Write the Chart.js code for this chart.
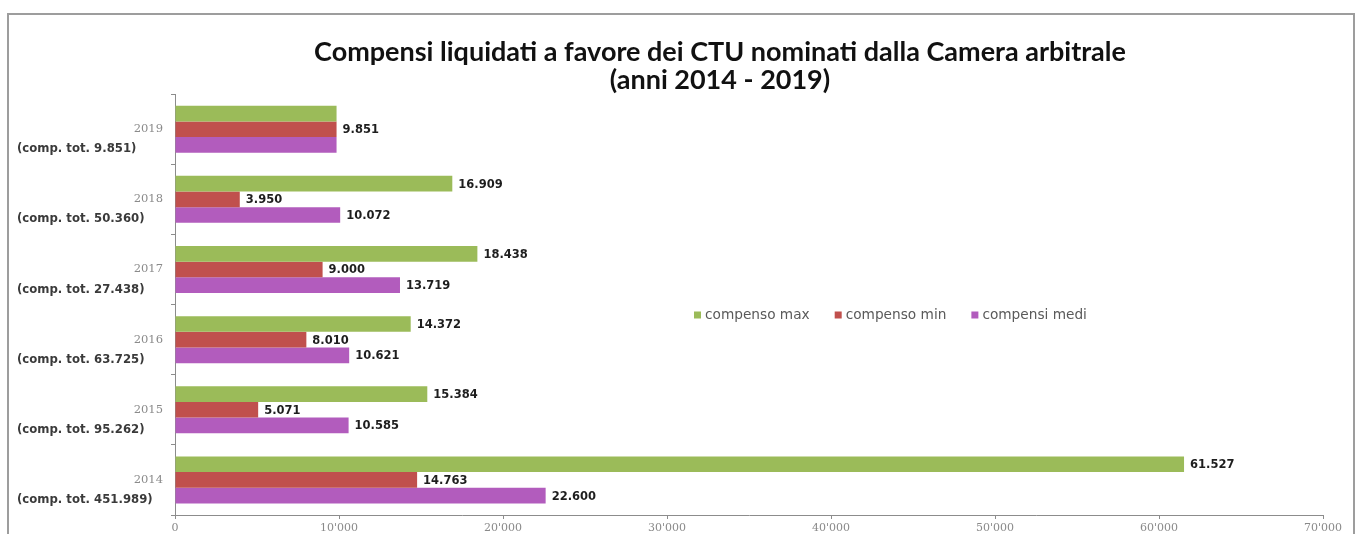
<!DOCTYPE html>
<html lang="it">
<head>
<meta charset="utf-8">
<title>Compensi liquidati a favore dei CTU</title>
<script src="https://cdn.jsdelivr.net/npm/chart.js@4/dist/chart.umd.min.js"></script>
<style>
  html, body { margin: 0; padding: 0; background: #fff; }
  #wrap { position: relative; width: 1362px; height: 534px; }
</style>
</head>
<body>
<div id="wrap"><canvas id="grafico" width="1362" height="534"></canvas></div>
<script>
// Anni (dall'alto verso il basso) e compensi in euro
const anni = ['2019', '2018', '2017', '2016', '2015', '2014'];
const compensiTotali = [9851, 50360, 27438, 63725, 95262, 451989];
const compensoMax = [9851, 16909, 18438, 14372, 15384, 61527];
const compensoMin = [9851, 3950, 9000, 8010, 5071, 14763];
const compensiMedi = [9851, 10072, 13719, 10621, 10585, 22600];
// Tacche dell'asse orizzontale
const tackeAsse = [0, 10000, 20000, 30000, 40000, 50000, 60000, 70000];
// Anni con un solo CTU: max, min e medio coincidono, si etichetta solo una barra
const anniUnSoloCompenso = ['2019'];

const puntiMigliaia = (v, sep) => String(v).replace(/\B(?=(\d{3})+(?!\d))/g, sep);

const VERDE = '#9BBB59', ROSSO = '#C0504D', VIOLA = '#B25CBD';

// Cornice esterna e sfondo
const cornice = {
  id: 'cornice',
  beforeDraw(chart) {
    const { ctx } = chart;
    ctx.save();
    ctx.fillStyle = '#fff';
    ctx.fillRect(0, 0, chart.width, chart.height);
    ctx.strokeStyle = '#9d9d9d';
    ctx.lineWidth = 2;
    ctx.strokeRect(8, 14, 1346, 540);
    ctx.restore();
  }
};

// Valori a destra delle barre
const etichetteValori = {
  id: 'etichetteValori',
  afterDatasetsDraw(chart) {
    const { ctx } = chart;
    ctx.save();
    ctx.font = 'bold 11.5px "DejaVu Sans"';
    ctx.textAlign = 'left';
    ctx.textBaseline = 'middle';
    chart.data.datasets.forEach((ds, di) => {
      const meta = chart.getDatasetMeta(di);
      meta.data.forEach((bar, i) => {
        if (anniUnSoloCompenso.includes(chart.data.labels[i]) && di !== 1) return;
        const testo = puntiMigliaia(ds.data[i], '.');
        const w = ctx.measureText(testo).width;
        ctx.fillStyle = '#fff';
        ctx.fillRect(bar.x + 2, bar.y - 7, w + 7, 14);
        ctx.fillStyle = '#1e1e1e';
        ctx.fillText(testo, bar.x + 6, bar.y + 1);
      });
    });
    ctx.restore();
  }
};

// Compenso totale sotto ogni anno
const totaliAnno = {
  id: 'totaliAnno',
  afterDraw(chart) {
    const { ctx } = chart;
    const y = chart.scales.y;
    ctx.save();
    ctx.font = 'bold 11.7px "DejaVu Sans"';
    ctx.fillStyle = '#3a3a3a';
    ctx.textAlign = 'left';
    ctx.textBaseline = 'middle';
    anni.forEach((a, i) => {
      const testo = '(comp. tot. ' + puntiMigliaia(compensiTotali[i], '.') + ')';
      ctx.fillText(testo, 17, y.getPixelForValue(i) + 20);
    });
    ctx.restore();
  }
};

// Legenda al centro dell'area del grafico
const legendaInterna = {
  id: 'legendaInterna',
  afterDraw(chart) {
    const { ctx } = chart;
    ctx.save();
    ctx.font = '13.7px "DejaVu Sans"';
    ctx.textAlign = 'left';
    ctx.textBaseline = 'middle';
    let x = 694;
    const y = 315;
    chart.data.datasets.forEach(ds => {
      ctx.fillStyle = ds.backgroundColor;
      ctx.fillRect(x, y - 3.5, 7, 7);
      ctx.fillStyle = '#5a5a5a';
      ctx.fillText(ds.label, x + 11, y);
      x += 11 + ctx.measureText(ds.label).width + 25;
    });
    ctx.restore();
  }
};

new Chart(document.getElementById('grafico'), {
  type: 'bar',
  data: {
    labels: anni,
    datasets: [
      { label: 'compenso max', data: compensoMax, backgroundColor: VERDE },
      { label: 'compenso min', data: compensoMin, backgroundColor: ROSSO },
      { label: 'compensi medi', data: compensiMedi, backgroundColor: VIOLA }
    ]
  },
  options: {
    indexAxis: 'y',
    responsive: false,
    animation: false,
    devicePixelRatio: 1,
    layout: { padding: { top: 0, left: 117, right: 39, bottom: 0 } },
    datasets: { bar: { categoryPercentage: 0.67, barPercentage: 1.0 } },
    plugins: {
      legend: { display: false },
      tooltip: { enabled: false },
      title: {
        display: true,
        text: ['Compensi liquidati a favore dei CTU nominati dalla Camera arbitrale', '(anni 2014 - 2019)'],
        color: '#111',
        font: { family: 'Lato', weight: 'bold', size: 27, lineHeight: 1.04 },
        padding: { top: 38, bottom: 0 }
      }
    },
    scales: {
      x: {
        min: tackeAsse[0],
        max: tackeAsse[tackeAsse.length - 1],
        afterBuildTicks(scale) { scale.ticks = tackeAsse.map(v => ({ value: v })); },
        afterFit(scale) { scale.height = 19; },
        grid: { drawOnChartArea: false, drawTicks: true, tickLength: 4, color: '#8c8c8c' },
        border: { color: '#8c8c8c' },
        ticks: {
          padding: 3,
          color: '#8a8a8a',
          font: { family: 'DejaVu Serif', size: 11 },
          maxRotation: 0,
          callback: v => puntiMigliaia(v, "'")
        }
      },
      y: {
        afterFit(scale) { scale.width = 58; },
        grid: { drawOnChartArea: false, drawTicks: true, tickLength: 4, color: '#8c8c8c', offset: true },
        border: { color: '#8c8c8c' },
        ticks: {
          padding: 8,
          color: '#8a8a8a',
          font: { family: 'DejaVu Serif', size: 11.5 }
        }
      }
    }
  },
  plugins: [cornice, etichetteValori, totaliAnno, legendaInterna]
});
</script>
</body>
</html>
